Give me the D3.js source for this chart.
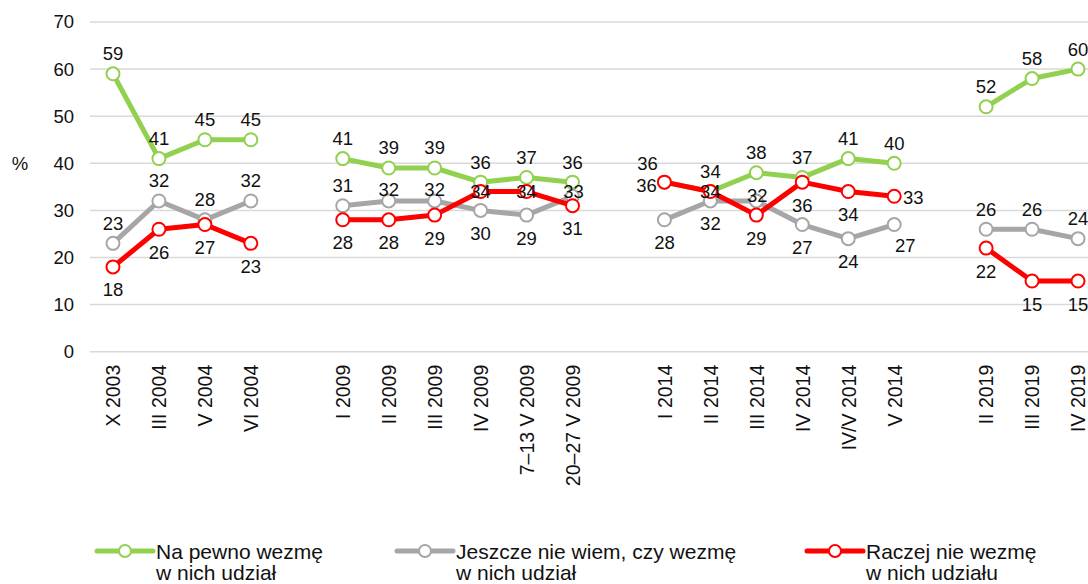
<!DOCTYPE html>
<html>
<head>
<meta charset="utf-8">
<script src="https://cdn.jsdelivr.net/npm/d3@7"></script>
<style>
  html, body { margin: 0; padding: 0; background: #fff; }
  svg { display: block; font-family: "Liberation Sans", Arial, sans-serif; }
</style>
</head>
<body>
<svg id="chart" width="1088" height="584"></svg>
<script>
// ---------- data ----------
const categories = ["X 2003","III 2004","V 2004","VI 2004","",
  "I 2009","II 2009","III 2009","IV 2009","7–13 V 2009","20–27 V 2009","",
  "I 2014","II 2014","III 2014","IV 2014","IV/V 2014","V 2014","",
  "II 2019","III 2019","IV 2019"];

const naPewno = [59,41,45,45,null, 41,39,39,36,37,36,null, 36,34,38,37,41,40,null, 52,58,60];
const jeszczeNie = [23,32,28,32,null, 31,32,32,30,29,33,null, 28,32,32,27,24,27,null, 26,26,24];
const raczejNie = [18,26,27,23,null, 28,28,29,34,34,31,null, 36,34,29,36,34,33,null, 22,15,15];

// label placement codes (a=above, b=below, l=left, r=right, c=center, n=near above, al=above-left, br=below-right)
const naPewnoLabelPos = ["a","a","a","a",null, "a","a","a","a","a","a",null, "al","a","a","a","a","a",null, "a","a","a"];
const jeszczeNieLabelPos = ["a","a","a","a",null, "a","n","n","b","b","nn",null, "b","b","nn","b","b","br",null, "a","a","a"];
const raczejNieLabelPos = ["b","b","b","b",null, "b","b","b","c","c","b",null, "l","c","b","b","b","r",null, "b","b","b"];

const yTicks = [0,10,20,30,40,50,60,70];
const yUnit = "%";

const legendLabels = [
  ["Na pewno wezmę","w nich udział"],
  ["Jeszcze nie wiem, czy wezmę","w nich udział"],
  ["Raczej nie wezmę","w nich udziału"]
];

// ---------- setup ----------
const svg = d3.select("#chart");
const plotLeft = 90, plotRight = 1101, plotTop = 22, plotBottom = 351.7;
const FONT = "'Liberation Sans', Arial, sans-serif";

const x = d3.scalePoint().domain(d3.range(categories.length)).range([plotLeft, plotRight]).padding(0.5);
const y = d3.scaleLinear().domain([0,70]).range([plotBottom, plotTop]);

const series = [
  {values: naPewno, pos: naPewnoLabelPos, color: "#92d050"},
  {values: jeszczeNie, pos: jeszczeNieLabelPos, color: "#a6a6a6"},
  {values: raczejNie, pos: raczejNieLabelPos, color: "#ff0000"}
];

// gridlines
svg.append("g").selectAll("line").data(yTicks).join("line")
  .attr("x1", plotLeft).attr("x2", plotRight)
  .attr("y1", d => y(d)).attr("y2", d => y(d))
  .attr("stroke", "#d9d9d9").attr("stroke-width", 1.5);

// y axis
const yAxis = svg.append("g").attr("transform", `translate(${plotLeft},0)`)
  .call(d3.axisLeft(y).tickValues(yTicks).tickSize(0).tickPadding(16));
yAxis.select(".domain").remove();
yAxis.selectAll("text").attr("font-size", 18.5).attr("fill", "#111").attr("font-family", FONT);

svg.append("text").attr("x", 20).attr("y", y(40)).attr("dy", "0.35em")
  .attr("text-anchor", "middle").attr("font-size", 18.5).attr("fill", "#111").text(yUnit);

// x axis labels
const xAxis = svg.append("g").attr("transform", `translate(0,${plotBottom})`)
  .call(d3.axisBottom(x).tickSize(0).tickFormat(i => categories[i]));
xAxis.select(".domain").remove();
xAxis.selectAll("text")
  .attr("font-size", 19.5).attr("fill", "#111").attr("font-family", FONT)
  .attr("transform", "rotate(-90)")
  .attr("text-anchor", "end")
  .attr("x", -13).attr("y", 0).attr("dy", "0.35em");

// lines + markers
const line = d3.line().defined(d => d.v != null).x(d => x(d.i)).y(d => y(d.v));
series.forEach(s => {
  const pts = s.values.map((v, i) => ({v, i}));
  svg.append("path").datum(pts).attr("d", line)
    .attr("fill", "none").attr("stroke", s.color).attr("stroke-width", 5)
    .attr("stroke-linejoin", "round");
  svg.append("g").selectAll("circle").data(pts.filter(d => d.v != null)).join("circle")
    .attr("cx", d => x(d.i)).attr("cy", d => y(d.v)).attr("r", 6.5)
    .attr("fill", "#fff").attr("stroke", s.color).attr("stroke-width", 2);
});

// data labels
const off = {
  a: [0,-20], b: [0,23], c: [0,0], l: [-18,3], r: [19,1],
  n: [0,-11], nn: [1,-5], al: [-17,-19], br: [11,21]
};
series.forEach(s => {
  svg.append("g").selectAll("text").data(s.values.map((v,i)=>({v,i,p:s.pos[i]})).filter(d => d.v != null))
    .join("text")
    .attr("x", d => x(d.i) + off[d.p][0])
    .attr("y", d => y(d.v) + off[d.p][1])
    .attr("dy", "0.35em").attr("text-anchor", "middle")
    .attr("font-size", 18.5).attr("fill", "#111")
    .text(d => d.v);
});

// legend
const legendX = [97, 397, 807];
legendLabels.forEach((lab, k) => {
  const g = svg.append("g").attr("transform", `translate(${legendX[k]},551)`);
  g.append("line").attr("x1", 0).attr("x2", 56).attr("y1", 0).attr("y2", 0)
    .attr("stroke", series[k].color).attr("stroke-width", 5).attr("stroke-linecap", "round");
  g.append("circle").attr("cx", 28).attr("cy", 0).attr("r", 6)
    .attr("fill", "#fff").attr("stroke", series[k].color).attr("stroke-width", 2);
  const t = g.append("text").attr("x", 59).attr("y", 7.5).attr("font-size", 21).attr("fill", "#111");
  t.append("tspan").attr("x", 59).text(lab[0]);
  t.append("tspan").attr("x", 59).attr("dy", 21).text(lab[1]);
});
</script>
</body>
</html>
